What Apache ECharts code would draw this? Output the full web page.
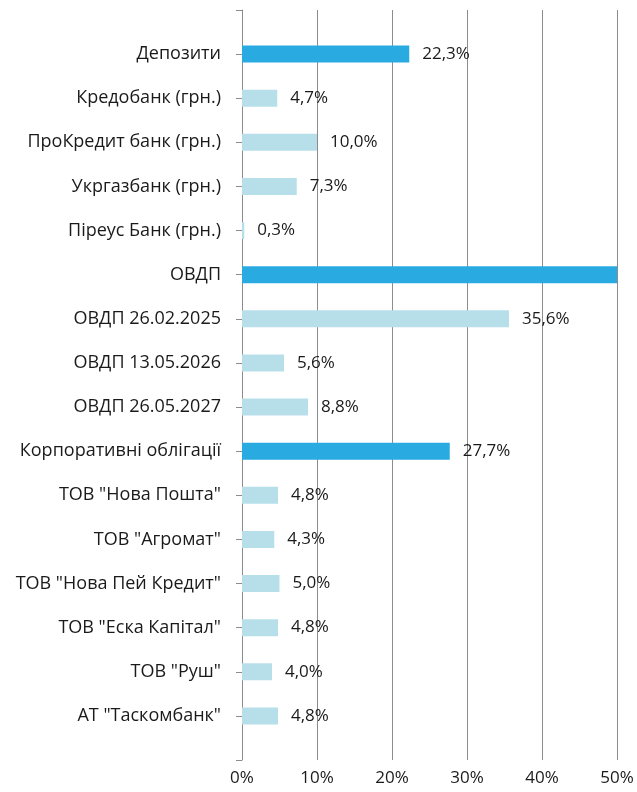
<!DOCTYPE html>
<html>
<head>
<meta charset="utf-8">
<script src="https://cdn.jsdelivr.net/npm/echarts@6/dist/echarts.min.js"></script>
<style>
  html, body { margin: 0; padding: 0; background: #fff; }
  #chart { width: 637px; height: 792px; }
</style>
</head>
<body>
<div id="chart"></div>
<script>
// categories, top to bottom ('' = empty slot at both ends of the axis)
const categories = [
  '',
  'Депозити',
  'Кредобанк (грн.)',
  'ПроКредит банк (грн.)',
  'Укргазбанк (грн.)',
  'Піреус Банк (грн.)',
  'ОВДП',
  'ОВДП 26.02.2025',
  'ОВДП 13.05.2026',
  'ОВДП 26.05.2027',
  'Корпоративні облігації',
  'ТОВ "Нова Пошта"',
  'ТОВ "Агромат"',
  'ТОВ "Нова Пей Кредит"',
  'ТОВ "Еска Капітал"',
  'ТОВ "Руш"',
  'АТ "Таскомбанк"',
  ''
]
const shares = [null, 22.3, 4.7, 10.0, 7.3, 0.3, 50.0, 35.6, 5.6, 8.8, 27.7, 4.8, 4.3, 5.0, 4.8, 4.0, 4.8, null]
// group totals are drawn darker
const groups = ['Депозити', 'ОВДП', 'Корпоративні облігації']
const xTicks = [0, 10, 20, 30, 40, 50]

const DARK = '#29abe2'
const LIGHT = '#b7dfea'
const FONT = '"Open Sans", "Noto Sans", sans-serif'

function fmt(v) {
  return v.toFixed(1).replace('.', ',') + '%'
}

const data = shares.map((v, i) => {
  if (v === null) return '-'
  const isGroup = groups.includes(categories[i])
  return {
    value: v,
    itemStyle: { color: isGroup ? DARK : LIGHT },
    // label of the ОВДП bar falls outside the plot in the original
    label: { show: v < 50 }
  }
})

const chart = echarts.init(document.getElementById('chart'), null, { renderer: 'canvas' })

chart.setOption({
  animation: false,
  grid: { left: 242, right: 20, top: 10, bottom: 32, containLabel: false },
  xAxis: {
    type: 'value',
    min: xTicks[0],
    max: xTicks[xTicks.length - 1],
    interval: 10,
    axisLine: { show: false },
    axisTick: { show: false },
    splitLine: { show: true, lineStyle: { color: '#8c8c8c', width: 1 } },
    axisLabel: {
      formatter: v => v + '%',
      color: '#1a1a1a',
      fontFamily: FONT,
      fontSize: 17,
      margin: 10
    }
  },
  yAxis: {
    type: 'category',
    data: categories,
    inverse: true,
    boundaryGap: false,
    axisLine: { show: true, lineStyle: { color: '#8c8c8c', width: 1 } },
    axisTick: { show: true, length: 6, lineStyle: { color: '#8c8c8c' } },
    axisLabel: {
      color: '#1a1a1a',
      fontFamily: FONT,
      fontSize: 18,
      margin: 21
    },
    splitLine: { show: false }
  },
  series: [
    {
      type: 'bar',
      data: data,
      barWidth: 17,
      label: {
        show: true,
        position: 'right',
        distance: 13,
        formatter: p => fmt(p.value),
        color: '#1a1a1a',
        fontFamily: FONT,
        fontSize: 17
      }
    }
  ]
})
</script>
</body>
</html>
